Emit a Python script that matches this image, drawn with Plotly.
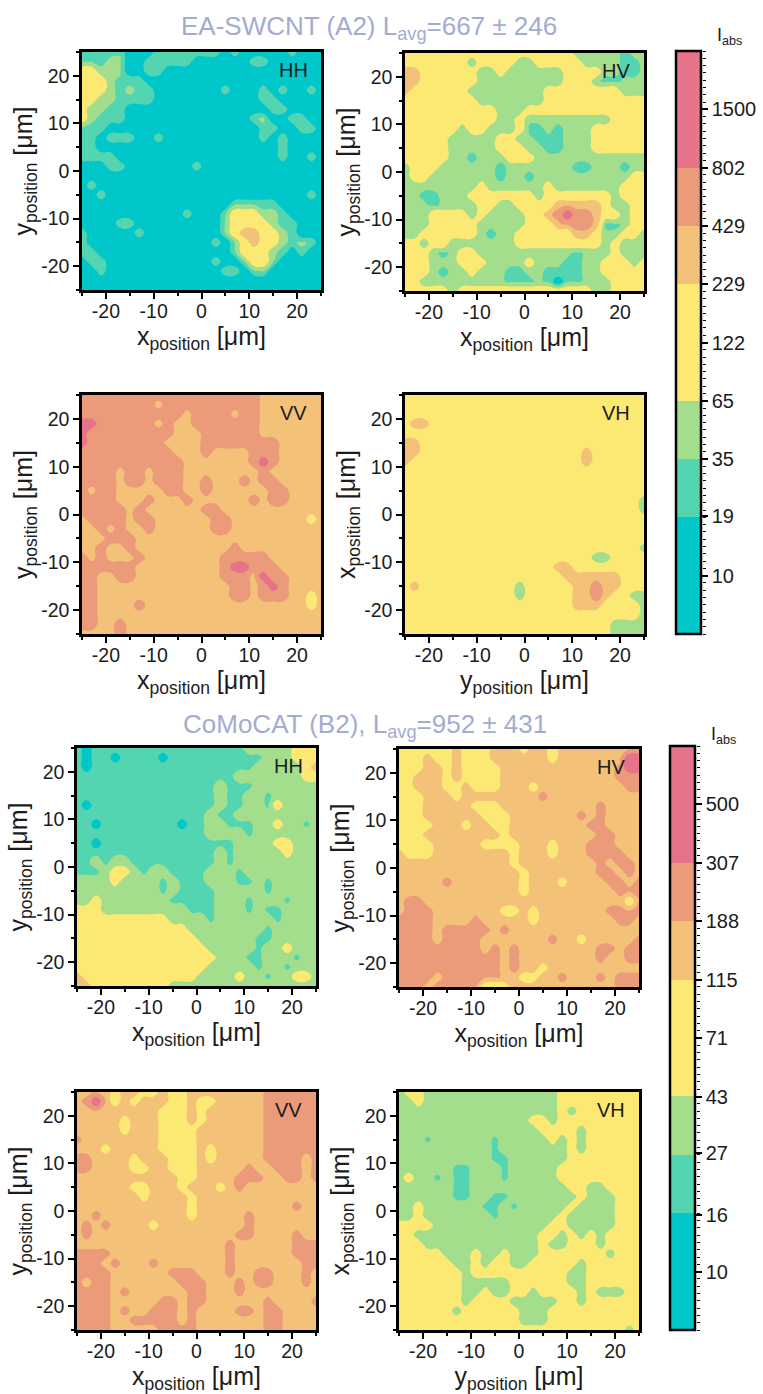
import numpy as np
import plotly.graph_objects as go

W, H = 763, 1394
# Intensity that stands for each colour class of the maps (class digits in the rows below)
A_BAND_VALUES = [10, 33, 37, 122, 415, 450, 1460]
B_BAND_VALUES = [10, 26, 28, 71, 186, 190, 500]
GRID_UM = list(range(-25, 26, 2))
AXIS_TICKS = [-20, -10, 0, 10, 20]
AXIS_LABELS = ["-20", "-10", "0", "10", "20"]

A_TICKS = [10, 19, 35, 65, 122, 229, 429, 802, 1500]
B_TICKS = [10, 16, 27, 43, 71, 115, 188, 307, 500]
A_TITLE = "EA-SWCNT (A2) L<sub>avg</sub>=667 ± 246"
B_TITLE = "CoMoCAT (B2), L<sub>avg</sub>=952 ± 431"

A_HH = [
"11111 00011 11111 01000 00100 0",
"11122 00111 11000 00011 00000 0",
"33222 00110 00000 00000 00000 0",
"33321 11000 00000 00000 00000 0",
"33321 21100 00000 10001 01001 0",
"33221 11100 00000 00001 10000 0",
"32211 00000 00000 00000 11000 0",
"32111 00000 00000 00012 00110 0",
"11100 00000 00000 00001 10011 0",
"11011 10010 00000 00001 01000 0",
"11000 00000 00000 00000 01000 0",
"11110 00000 00000 00000 01001 0",
"00011 00000 00100 00000 00000 0",
"00000 00000 00000 00000 00000 0",
"01000 00000 00000 00000 00000 0",
"00100 00000 00000 00000 00001 0",
"00000 00000 00000 01111 10000 0",
"00000 00000 01000 13332 21000 0",
"00001 10000 00000 23333 21100 0",
"10000 01000 00000 23443 32100 0",
"20000 00000 00001 02343 32121 0",
"11000 00000 00000 01333 21010 0",
"01100 00000 00001 00233 20000 0",
"00100 00000 00000 11012 00000 0",
"00000 00000 00000 00000 00000 0",
"00000 00000 00000 00000 00000 0",
]
A_HV = [
"33333 33333 33333 33322 22212 2",
"33333 33233 33223 33332 22211 2",
"44333 33322 32222 22333 32211 2",
"44333 33322 22222 22333 21122 2",
"43333 33222 22222 33333 33322 2",
"33333 33322 22222 33333 33333 3",
"33333 33333 22233 33333 33333 3",
"33333 33333 22322 22222 22333 3",
"33333 32332 22311 21222 33333 3",
"33333 22222 33221 11222 33333 3",
"33333 22222 33322 11222 33333 3",
"33333 22122 23332 22222 22222 2",
"23332 22222 12222 22211 22212 2",
"23322 22222 12212 22222 22223 3",
"22222 22232 22222 32222 22233 3",
"22112 22333 33332 33333 33233 3",
"22212 22233 22333 34444 43223 3",
"22233 33232 22233 45655 43323 3",
"22233 33322 22233 34555 41123 3",
"22333 33321 22333 33344 32233 2",
"33233 22222 22333 33333 32322 2",
"33321 23322 22222 22212 22322 2",
"33322 23332 22232 22112 23332 3",
"33321 22322 21122 11112 23333 3",
"33222 22222 21112 10112 22333 3",
"33333 23333 33333 33333 22333 3",
]
A_VV = [
"55555 55555 55555 55554 44444 4",
"55555 55545 55555 55554 44444 4",
"55555 55555 54555 54554 44444 4",
"66555 55545 44555 55554 44444 4",
"65555 55555 44455 55554 44444 4",
"65555 55554 44455 55555 54444 4",
"55555 55555 44454 44455 54444 4",
"55555 55555 54444 44456 54444 4",
"55554 55455 54444 44445 44444 4",
"55554 55455 54454 44545 54444 4",
"54554 44445 54454 44444 55444 4",
"55554 44544 45444 44454 55444 4",
"55555 45444 44455 44444 44444 4",
"45555 45544 44445 54444 44443 4",
"44545 44544 44445 54444 44444 4",
"44455 54444 44444 44444 44444 4",
"44544 54444 44444 45444 44444 4",
"54544 45444 44444 55555 44444 4",
"55555 54444 44444 56655 54444 4",
"55445 54444 44444 55546 55444 4",
"55444 44444 44444 45545 65444 4",
"55444 44444 44444 45545 55443 4",
"55444 45444 44444 44444 44443 4",
"55444 44444 44444 44444 44444 4",
"55445 44444 44444 44444 44444 4",
"44445 44444 44444 44444 44444 4",
]
A_VH = [
"33333 33333 33333 33333 33333 3",
"33333 33333 33333 33333 33333 3",
"33333 33333 33333 33333 33333 3",
"34433 33333 33333 33333 33333 3",
"33333 33333 33333 33333 33333 3",
"44333 33333 33333 33333 33333 3",
"44333 33333 33333 33334 33333 3",
"43333 33333 33333 33335 33333 3",
"33333 33333 33333 33333 33333 3",
"33333 33333 33333 33333 33333 3",
"33333 33333 33333 33333 33333 3",
"33333 33333 33333 33333 33333 2",
"33333 33333 33333 33333 33333 2",
"33333 33333 33333 33333 33333 3",
"33333 33333 33333 33333 33333 3",
"33333 33333 33333 33333 33333 3",
"33333 33333 33333 33333 33333 2",
"33333 33333 33333 33333 22333 3",
"33333 33333 33333 34433 33333 3",
"33333 33333 33333 33444 44433 3",
"34333 33333 33233 33344 54433 3",
"33333 33333 33233 33344 54332 2",
"33333 33333 33333 33344 43333 2",
"33333 33333 33333 33333 33333 2",
"33333 33333 33333 33333 33222 2",
"33333 33333 33333 33333 33222 2",
]
B_HH = [
"10111 11111 11111 11122 22233 3",
"10110 11110 11111 11111 22233 3",
"10111 11111 11111 11112 22223 4",
"11111 11111 11111 11222 22223 3",
"11111 11111 11111 21112 22222 2",
"11111 11111 11111 21122 12222 2",
"10111 11111 11111 21122 13222 2",
"11111 11111 11112 11222 22222 2",
"11011 11111 10112 21112 23221 2",
"11111 11111 11112 22212 22222 2",
"11011 11111 11111 11222 23322 2",
"11111 11111 11111 21222 22322 2",
"11212 21111 11111 21222 22222 2",
"11123 32122 11112 22122 22222 2",
"22223 22221 21112 22112 12222 2",
"22222 22221 21111 22222 12222 2",
"22322 22222 11111 22212 22122 2",
"33322 22222 22111 22212 11222 2",
"33333 33333 22221 22222 21222 2",
"33333 33333 33222 22222 12222 2",
"33333 33333 33322 22221 12222 2",
"33333 33333 33332 22221 22322 2",
"33333 33333 33333 22211 22212 2",
"33333 33333 33332 22221 22122 2",
"43333 33333 33322 22322 12233 2",
"44333 33333 22222 22222 22222 2",
]
B_HV = [
"33333 34333 44434 43444 44444 4",
"33343 34333 44444 43444 44446 6",
"33344 34333 34444 44444 44456 6",
"33444 34333 34444 44444 44455 5",
"33444 33433 34443 44444 44445 5",
"33344 43444 44444 54444 44444 4",
"33344 44433 34444 44444 45444 4",
"33344 44443 33444 44445 45444 4",
"33334 44344 33444 44444 55444 4",
"33344 44444 43444 44444 45544 4",
"33334 44443 33344 43444 55544 4",
"43334 44444 44344 43444 55554 4",
"44444 44444 44344 44444 45455 4",
"44444 44444 44434 44444 45545 4",
"44444 54444 44434 44344 44554 5",
"44444 44444 44434 44444 44455 5",
"45544 44444 44444 44444 44443 5",
"45554 44444 43343 44444 44555 5",
"55554 44454 44443 44444 44455 4",
"55554 55555 45444 44444 44444 4",
"55554 55554 44444 45443 44444 5",
"55555 55554 54544 44444 45545 5",
"55555 55555 54544 44444 45445 5",
"55555 55555 54544 34444 44444 4",
"55554 55555 54433 44544 45455 5",
"55545 55553 33444 44444 44455 5",
]
B_VV = [
"44443 44334 33444 44444 55555 5",
"45643 43444 33433 44444 55555 5",
"44444 44443 33434 44444 55555 5",
"44444 34443 33434 44444 55555 5",
"44444 34443 33344 44444 55555 5",
"54444 44443 33344 44444 55555 5",
"44434 44443 33343 44444 55555 5",
"55444 43444 33343 44444 55554 5",
"55444 43344 33344 44454 45554 5",
"44444 44444 43344 44555 44554 5",
"44444 43344 43444 34544 44444 4",
"44444 44344 44344 44444 44444 4",
"44444 44444 44344 44444 44454 4",
"44544 44444 44344 44454 44444 4",
"45454 44434 44444 44454 44444 4",
"45444 44444 44444 44554 44454 4",
"44444 44444 44444 45444 44455 5",
"55554 44444 44444 45444 44455 5",
"55545 44454 44444 45444 44445 5",
"55554 44444 55544 45445 54445 4",
"54554 44444 45554 44545 54445 4",
"55554 54444 44554 44544 44444 4",
"55554 44445 54554 44444 54444 5",
"55554 54455 54544 44554 55444 4",
"55554 45555 54544 44444 55444 4",
"55554 44445 55544 44444 55444 4",
]
B_VH = [
"23322 22222 22222 22333 33333 3",
"22322 22222 22222 22333 33333 3",
"22222 22222 22222 22323 33333 3",
"22222 22222 22223 32333 33333 3",
"22222 22222 22222 33332 33333 3",
"22212 22222 12222 23232 33333 3",
"22222 22222 12222 22232 33333 3",
"22222 22222 11222 22233 33333 3",
"22222 21122 21222 22333 33333 3",
"23221 21122 21222 22333 33333 3",
"22222 21122 22222 22233 22333 3",
"22222 21122 11222 22223 22233 3",
"22322 22221 12122 22232 22233 3",
"22322 22222 12222 22322 22233 3",
"33332 22222 22222 23322 22233 3",
"33222 22222 22222 33232 32333 3",
"33322 22222 22222 32233 32333 3",
"33333 22232 23222 33333 33233 3",
"33333 32232 33223 33332 33333 3",
"33333 33233 33333 33322 33333 3",
"33333 33222 22333 33322 33333 3",
"33333 33223 22332 33332 32223 3",
"33333 33233 33222 22332 33333 3",
"33333 32333 33322 23333 33333 3",
"33333 33333 33322 23333 33333 3",
"33333 33333 33333 33333 33332 3",
]

# ---------- styles ----------
C = ["#00C7C9", "#00C7C9", "#52D5B0", "#A2DE8C", "#FCE973", "#FCE973",
     "#F3C178", "#EC9B7A", "#E6738A", "#E6738A"]
COLORSCALE = [[i / 9, c] for i, c in enumerate(C)]
FONT = "Liberation Sans"
INK = "#1c1c1c"

def px(x): return x / W
def py(y): return 1 - y / H

def band_grid(rows, bands):
    cells = [[bands[int(ch)] for ch in r.replace(" ", "")] for r in rows]
    return np.log10(np.array(cells, dtype=float))

def level_scale(ticks):
    lg = np.log10(np.array(ticks, dtype=float))
    step = (lg[-1] - lg[0]) / (len(lg) - 1)
    return lg, float(lg[0]), float(lg[-1]), float(step)

# panel: rows, label, x-title, y-title, left, right, top, bottom (px)
PANELS = [
 (A_HH, "HH", "x", "y", 82, 321, 52, 290, "A"),
 (A_HV, "HV", "x", "y", 405, 644, 53, 291, "A"),
 (A_VV, "VV", "x", "y", 82, 321, 395, 634, "A"),
 (A_VH, "VH", "y", "x", 405, 644, 395, 634, "A"),
 (B_HH, "HH", "x", "y", 77, 316, 748, 986, "B"),
 (B_HV, "HV", "x", "y", 399, 639, 749, 987, "B"),
 (B_VV, "VV", "x", "y", 77, 316, 1092, 1330, "B"),
 (B_VH, "VH", "y", "x", 399, 639, 1092, 1330, "B"),
]
BARS = {"A": (A_TICKS, A_BAND_VALUES, 676, 701, 51, 634),
        "B": (B_TICKS, B_BAND_VALUES, 670, 695, 746, 1330)}

fig = go.Figure()
layout = dict(width=W, height=H, margin=dict(l=0, r=0, t=0, b=0, pad=0),
              paper_bgcolor="white", plot_bgcolor="white", showlegend=False,
              font=dict(family=FONT, color=INK))
annotations = []
seen = set()

def atitle(letter):
    return f"{letter}<sub>position</sub> [μm]"

for i, (rows, label, xt, yt, l, r, t, b, grp) in enumerate(PANELS, start=1):
    ticks, bands, bl, br, bt, bb = BARS[grp]
    lg, s, e, step = level_scale(ticks)
    show = grp not in seen
    seen.add(grp)
    fig.add_trace(go.Contour(
        x=GRID_UM, y=GRID_UM[::-1], z=band_grid(rows, bands),
        xaxis=f"x{i}", yaxis=f"y{i}",
        zmin=s - step, zmax=e + step, colorscale=COLORSCALE,
        autocontour=False,
        contours=dict(start=s, end=e, size=step, coloring="fill", showlines=False),
        line=dict(width=0, smoothing=1.3),
        showscale=show,
        colorbar=dict(
            x=px(bl), xanchor="left", xpad=0, y=py(bt), yanchor="top", ypad=0,
            thickness=br - bl, thicknessmode="pixels",
            len=bb - bt, lenmode="pixels",
            outlinewidth=2.5, outlinecolor="black", borderwidth=0,
            tickmode="array", tickvals=lg.tolist(), ticktext=[str(v) for v in ticks],
            ticks="outside", ticklen=6, tickwidth=1.5, tickcolor="black",
            tickfont=dict(family=FONT, size=20, color=INK),
        ),
        hoverinfo="skip",
    ))
    xa = dict(domain=[px(l), px(r)], anchor=f"y{i}", range=[-25, 25],
              tickmode="array", tickvals=AXIS_TICKS, ticktext=AXIS_LABELS,
              ticks="outside", ticklen=6, tickwidth=2, tickcolor="black",
              tickfont=dict(family=FONT, size=19.5, color=INK),
              showline=True, linewidth=2.5, linecolor="black", mirror=True,
              showgrid=False, zeroline=False, ticklabelstandoff=-4,
              minor=dict(ticks="outside", ticklen=3, tickwidth=1.5, tickcolor="black",
                         tick0=-25, dtick=5, showgrid=False),
              title=dict(text=atitle(xt), font=dict(family=FONT, size=25, color=INK), standoff=6))
    ya = dict(xa)
    ya.update(domain=[py(b), py(t)], anchor=f"x{i}", ticklabelstandoff=0,
              title=dict(text=atitle(yt), font=dict(family=FONT, size=25, color=INK), standoff=2))
    layout[f"xaxis{i}"] = xa
    layout[f"yaxis{i}"] = ya
    annotations.append(dict(text=label, xref="paper", yref="paper", x=px(r - 28), y=py(t + 18),
                            showarrow=False, xanchor="center", yanchor="middle",
                            font=dict(family=FONT, size=20, color=INK)))

for txt, cx, cy in [(A_TITLE, 369, 27), (B_TITLE, 365, 725)]:
    annotations.append(dict(text=txt, xref="paper", yref="paper", x=px(cx), y=py(cy),
                            showarrow=False, xanchor="center", yanchor="middle",
                            font=dict(family=FONT, size=26, color="#A3ABD2")))
for cx, cy in [(729, 36), (723, 735)]:
    annotations.append(dict(text="I<sub>abs</sub>", xref="paper", yref="paper", x=px(cx), y=py(cy),
                            showarrow=False, xanchor="center", yanchor="middle",
                            font=dict(family=FONT, size=18, color=INK)))

# minor ticks beside each colour bar, on an otherwise empty axis sharing its scale
for j, grp in enumerate(["A", "B"], start=9):
    ticks, bands, bl, br, bt, bb = BARS[grp]
    lg, s, e, step = level_scale(ticks)
    fig.add_trace(go.Scatter(x=[0], y=[s], xaxis=f"x{j}", yaxis=f"y{j}", mode="markers",
                             marker=dict(size=1, opacity=0), hoverinfo="skip"))
    layout[f"xaxis{j}"] = dict(domain=[px(bl), px(br + 1)], anchor=f"y{j}", visible=False)
    layout[f"yaxis{j}"] = dict(domain=[py(bb), py(bt)], anchor=f"x{j}", side="right",
                               range=[s - step, e + step], showgrid=False, zeroline=False,
                               showline=False, tickmode="array", tickvals=[], showticklabels=False,
                               minor=dict(ticks="outside", ticklen=3, tickwidth=1, tickcolor="black",
                                          tick0=s, dtick=step / 8, showgrid=False))

layout["annotations"] = annotations
fig.update_layout(**layout)
fig.write_html("out.html", config={"displayModeBar": False},
               post_script="document.body.style.margin='0';document.body.style.overflow='hidden';")
